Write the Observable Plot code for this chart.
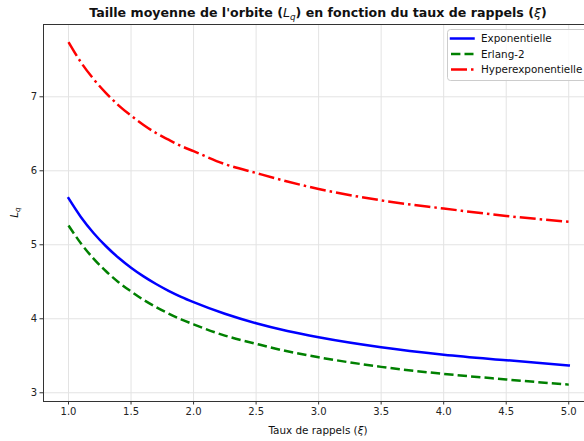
<!DOCTYPE html>
<html>
<head>
<meta charset="utf-8">
<script src="https://cdn.jsdelivr.net/npm/d3@7"></script>
<script src="https://cdn.jsdelivr.net/npm/@observablehq/plot@0.6"></script>
<style>
  html, body { margin: 0; padding: 0; background: white; overflow: hidden; }
  svg { display: block; }
</style>
</head>
<body>
<div id="chart"></div>
<script>
// Data
const xi = [1.0, 1.1, 1.2, 1.3, 1.4, 1.5, 1.6, 1.7, 1.8, 1.9, 2.0, 2.25, 2.5, 2.75, 3.0, 3.5, 4.0, 4.5, 5.0];
const exponentielle = [5.63, 5.373, 5.16, 4.98, 4.824, 4.69, 4.573, 4.47, 4.378, 4.297, 4.225, 4.068, 3.94, 3.835, 3.75, 3.615, 3.515, 3.44, 3.37];
const erlang2 = [5.26, 5.017, 4.813, 4.642, 4.494, 4.37, 4.256, 4.158, 4.071, 3.993, 3.925, 3.773, 3.662, 3.56, 3.48, 3.35, 3.255, 3.18, 3.11];
const hyperexpo = [7.74, 7.465, 7.24, 7.05, 6.885, 6.745, 6.62, 6.51, 6.42, 6.335, 6.265, 6.09, 5.97, 5.855, 5.755, 5.60, 5.49, 5.39, 5.31];
const seriesNames = ["Exponentielle", "Erlang-2", "Hyperexponentielle"];
const xTicks = [1.0, 1.5, 2.0, 2.5, 3.0, 3.5, 4.0, 4.5, 5.0];
const yTicks = [3, 4, 5, 6, 7];

const colors = ["#0000ff", "#008000", "#ff0000"];
const dashes = [null, "9.4,4.1", "16,4,2.5,4"];
const seriesValues = [exponentielle, erlang2, hyperexpo];

const xDomain = [0.8, 5.126];
const yDomain = [2.882, 7.977];

const lineMarks = seriesValues.map((vals, k) =>
  Plot.line(xi.map((x, i) => ({x, y: vals[i]})), {
    x: "x", y: "y",
    stroke: colors[k], strokeWidth: 2.5,
    strokeDasharray: dashes[k] || undefined,
    strokeLinecap: dashes[k] ? "butt" : "square",
    curve: "monotone-x"
  })
);

const chart = Plot.plot({
  width: 584, height: 441,
  marginLeft: 43, marginRight: 0, marginTop: 24, marginBottom: 40,
  x: {domain: xDomain},
  y: {domain: yDomain},
  style: {fontFamily: "DejaVu Sans", fontSize: "10px", color: "#222", background: "white"},
  marks: [
    Plot.gridX(xTicks, {stroke: "#e3e3e3", strokeOpacity: 1, strokeWidth: 1}),
    Plot.gridY(yTicks, {stroke: "#e3e3e3", strokeOpacity: 1, strokeWidth: 1}),
    ...lineMarks,
    Plot.ruleX([xDomain[0]], {stroke: "#333", strokeWidth: 1}),
    Plot.ruleY([yDomain[0]], {stroke: "#333", strokeWidth: 1}),
    Plot.ruleY([yDomain[1]], {stroke: "#333", strokeWidth: 1}),
    Plot.axisX(xTicks, {tickFormat: d => d.toFixed(1), tickSize: 3.5, tickPadding: 3, label: null, stroke: "#333"}),
    Plot.axisY(yTicks, {tickFormat: d => String(d), tickSize: 3.5, tickPadding: 3, label: null, stroke: "#333"})
  ]
});

document.getElementById("chart").appendChild(chart);

const svg = d3.select(chart);
const font = "DejaVu Sans";

// Title
const title = svg.append("text")
  .attr("x", 318).attr("y", 17)
  .attr("text-anchor", "middle")
  .attr("font-family", font).attr("font-size", 12.6).attr("font-weight", "bold")
  .attr("fill", "#111");
title.append("tspan").text("Taille moyenne de l'orbite (");
title.append("tspan").attr("font-style", "italic").attr("font-weight", "normal").text("L");
title.append("tspan").attr("font-style", "italic").attr("font-weight", "normal").attr("font-size", 8.8).attr("dy", 2.5).text("q");
title.append("tspan").attr("dy", -2.5).text(") en fonction du taux de rappels (");
title.append("tspan").attr("font-style", "italic").attr("font-weight", "normal").text("ξ");
title.append("tspan").text(")");

// X label
const xl = svg.append("text")
  .attr("x", 318).attr("y", 434)
  .attr("text-anchor", "middle")
  .attr("font-family", font).attr("font-size", 10.4).attr("fill", "#111");
xl.append("tspan").text("Taux de rappels (");
xl.append("tspan").attr("font-style", "italic").text("ξ");
xl.append("tspan").text(")");

// Y label
const yl = svg.append("text")
  .attr("transform", "translate(18,212.5) rotate(-90)")
  .attr("text-anchor", "middle")
  .attr("font-family", font).attr("font-size", 10.4).attr("fill", "#111");
yl.append("tspan").attr("font-style", "italic").text("L");
yl.append("tspan").attr("font-style", "italic").attr("font-size", 7.3).attr("dy", 2).text("q");

// Legend
const lg = svg.append("g");
lg.append("rect")
  .attr("x", 447.5).attr("y", 29.5).attr("width", 145).attr("height", 51)
  .attr("rx", 3).attr("fill", "white").attr("fill-opacity", 0.8)
  .attr("stroke", "#cccccc").attr("stroke-width", 1);
seriesNames.forEach((name, k) => {
  const yy = 38.5 + k * 15.5;
  lg.append("line")
    .attr("x1", 451).attr("x2", 473.5).attr("y1", yy).attr("y2", yy)
    .attr("stroke", colors[k]).attr("stroke-width", 2.5)
    .attr("stroke-dasharray", dashes[k])
    .attr("stroke-linecap", dashes[k] ? "butt" : "square");
  lg.append("text")
    .attr("x", 481).attr("y", yy + 3.6)
    .attr("text-anchor", "start")
    .attr("font-family", font).attr("font-size", 10.4).attr("fill", "#111")
    .text(name);
});
</script>
</body>
</html>
